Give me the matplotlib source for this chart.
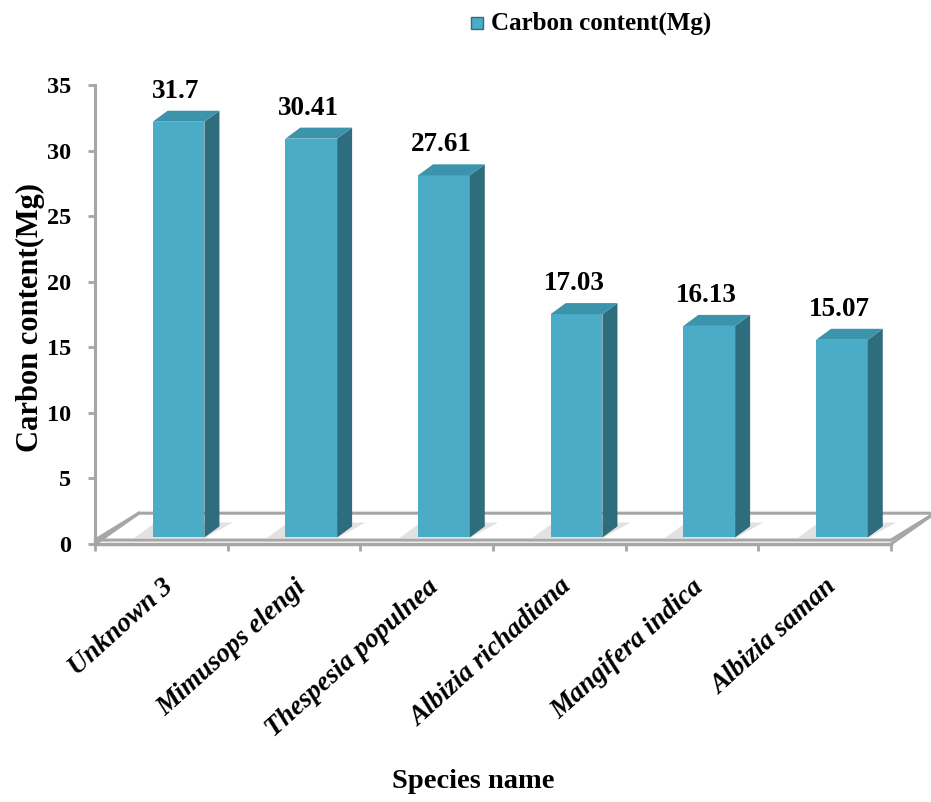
import matplotlib
matplotlib.use("Agg")
import matplotlib.pyplot as plt
from matplotlib.patches import Polygon
import matplotlib.transforms as mtransforms

species = ["Unknown 3", "Mimusops elengi", "Thespesia populnea",
           "Albizia richadiana", "Mangifera indica", "Albizia saman"]
carbon = [31.7, 30.41, 27.61, 17.03, 16.13, 15.07]
value_labels = ["31.7", "30.41", "27.61", "17.03", "16.13", "15.07"]

plt.rcParams["font.family"] = ["Liberation Serif", "DejaVu Serif"]
plt.rcParams["font.weight"] = "bold"

front_col = "#4aacc6"
top_col = "#3b94ab"
side_col = "#2e6d7e"
grey = "#a6a6a6"

fig = plt.figure(figsize=(9.31, 8.02), dpi=100)
ax = fig.add_axes([95 / 931, (802 - 544) / 802, 796 / 931, 459 / 802])
ax.set_xlim(-0.5, len(species) - 0.5)
ax.set_ylim(0, 35)

# floor of the 3d box (top surface sits a little above the axis line)
fdx, fdy = 0.33, 2.35
n = len(species)
f0 = 0.3
floor = Polygon([(-0.5, f0), (n - 0.5, f0), (n - 0.5 + fdx, fdy), (-0.5 + fdx, fdy)],
                closed=True, facecolor="white", edgecolor=grey, lw=2.2,
                clip_on=False, zorder=1, joinstyle="round")
ax.add_patch(floor)
ax.plot([-0.5, -0.5 + fdx], [0, fdy], color=grey, lw=2.2, zorder=1, clip_on=False)
ax.plot([n - 0.5, n - 0.5 + fdx], [0, fdy], color=grey, lw=2.2, zorder=1,
        clip_on=False)

# bars: front face + side + top
w = 0.39
offx = 0.13
base = 0.5
sdx, sdy = 0.113, 0.84
xs = [i + offx for i in range(n)]
for x, v in zip(xs, carbon):
    # soft shadow on the floor
    sh = Polygon([(x - w / 2 - 0.14, base - 0.05), (x + w / 2, base - 0.05),
                  (x + w / 2 + sdx + 0.1, base + sdy + 0.3), (x - w / 2 + 0.02, base + sdy + 0.3)],
                 closed=True, facecolor="#cfcfcf", edgecolor="none", alpha=0.6,
                 zorder=2, clip_on=False)
    ax.add_patch(sh)
bars = ax.bar(xs, carbon, width=w, bottom=base, color=front_col, zorder=3)
for x, v in zip(xs, carbon):
    top = base + v
    side = Polygon([(x + w / 2, base), (x + w / 2 + sdx, base + sdy),
                    (x + w / 2 + sdx, top + sdy), (x + w / 2, top)],
                   closed=True, facecolor=side_col, edgecolor="none", zorder=3,
                   clip_on=False)
    ax.add_patch(side)
    lid = Polygon([(x - w / 2, top), (x + w / 2, top),
                   (x + w / 2 + sdx, top + sdy), (x - w / 2 + sdx, top + sdy)],
                  closed=True, facecolor=top_col, edgecolor="none", zorder=3,
                  clip_on=False)
    ax.add_patch(lid)

for x, v, lab in zip(xs, carbon, value_labels):
    ax.annotate(lab, xy=(x - 0.02, base + v + sdy), xytext=(0, 5),
                textcoords="offset points", ha="center", va="bottom",
                fontsize=19.5, fontweight="bold", annotation_clip=False)

# axes styling
for s in ["top", "right", "bottom"]:
    ax.spines[s].set_visible(False)
ax.spines["left"].set_color(grey)
ax.spines["left"].set_linewidth(2.2)
ax.set_yticks(range(0, 36, 5))
ax.tick_params(axis="y", direction="out", length=5, width=2, color=grey,
               pad=12, labelsize=17.5)
for t in ax.get_yticklabels():
    t.set_fontweight("bold")

ax.set_xticks([i - 0.5 for i in range(n + 1)])
ax.set_xticklabels([])
ax.tick_params(axis="x", direction="out", length=5, width=2, color=grey)
ax.axhline(0, color=grey, lw=2.5, zorder=1, clip_on=False)

offset = mtransforms.ScaledTranslation(0, -22 / 72, fig.dpi_scale_trans)
trans = mtransforms.blended_transform_factory(ax.transData, ax.transAxes) + offset
for i, name in enumerate(species):
    ax.text(i + 0.0, 0, name, transform=trans, rotation=42, ha="right",
            va="top", rotation_mode="anchor", fontsize=19.5, fontweight="bold",
            style="italic")

fig.text(30 / 931, 1 - 317 / 802, "Carbon content(Mg)", rotation=90,
         ha="center", va="center", fontsize=22, fontweight="bold")
fig.text(473 / 931, 1 - 782 / 802, "Species name", ha="center", va="center",
         fontsize=20.5, fontweight="bold")

# legend
fig.patches.append(Polygon([(471 / 931, 1 - 29 / 802), (483 / 931, 1 - 29 / 802),
                            (483 / 931, 1 - 17 / 802), (471 / 931, 1 - 17 / 802)],
                           closed=True, transform=fig.transFigure,
                           facecolor=front_col, edgecolor=side_col, lw=1))
fig.text(491 / 931, 1 - 23 / 802, "Carbon content(Mg)", ha="left", va="center",
         fontsize=18, fontweight="bold")

fig.savefig("out.png", dpi=100)
